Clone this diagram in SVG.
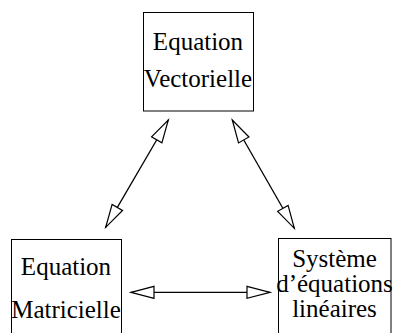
<svg xmlns="http://www.w3.org/2000/svg" width="395" height="333" viewBox="0 0 395 333">
<style>
.box{fill:#fff;stroke:#000;stroke-width:1}
.t{font-family:"Liberation Serif","Times New Roman",serif;font-size:25px;fill:#000;text-anchor:middle}
.c{stroke:#000;stroke-width:1.3;fill:none;marker-start:url(#oa);marker-end:url(#oa)}
</style>
<defs>
<marker id="oa" markerUnits="userSpaceOnUse" viewBox="-1 -8 26 16" markerWidth="26" markerHeight="16" refX="23" refY="0" orient="auto-start-reverse">
<path d="M0,-6 L23,0 L0,6 Z" fill="#fff" stroke="#000" stroke-width="1.2" stroke-linejoin="miter"/>
</marker>
</defs>
<rect width="395" height="333" fill="#fff"/>
<g id="vectorielle">
<rect class="box" x="143.5" y="12.5" width="110" height="98.5"/>
<text class="t" x="198" y="50">Equation</text>
<text class="t" x="198" y="87">Vectorielle</text>
</g>
<g id="matricielle">
<rect class="box" x="11.5" y="239.5" width="110" height="110"/>
<text class="t" x="66" y="275">Equation</text>
<text class="t" x="66" y="318">Matricielle</text>
</g>
<g id="systeme">
<rect class="box" x="278.5" y="238.5" width="112.5" height="110"/>
<text class="t" x="334.5" y="267">Système</text>
<text class="t" x="334.5" y="292">d’équations</text>
<text class="t" x="334.5" y="317">linéaires</text>
</g>
<g id="connectors">
<line class="c" x1="168.3" y1="120" x2="105.7" y2="227.3"/>
<line class="c" x1="232.3" y1="120" x2="294.3" y2="228.3"/>
<line class="c" x1="131" y1="292.3" x2="270" y2="292.3"/>
</g>
</svg>
